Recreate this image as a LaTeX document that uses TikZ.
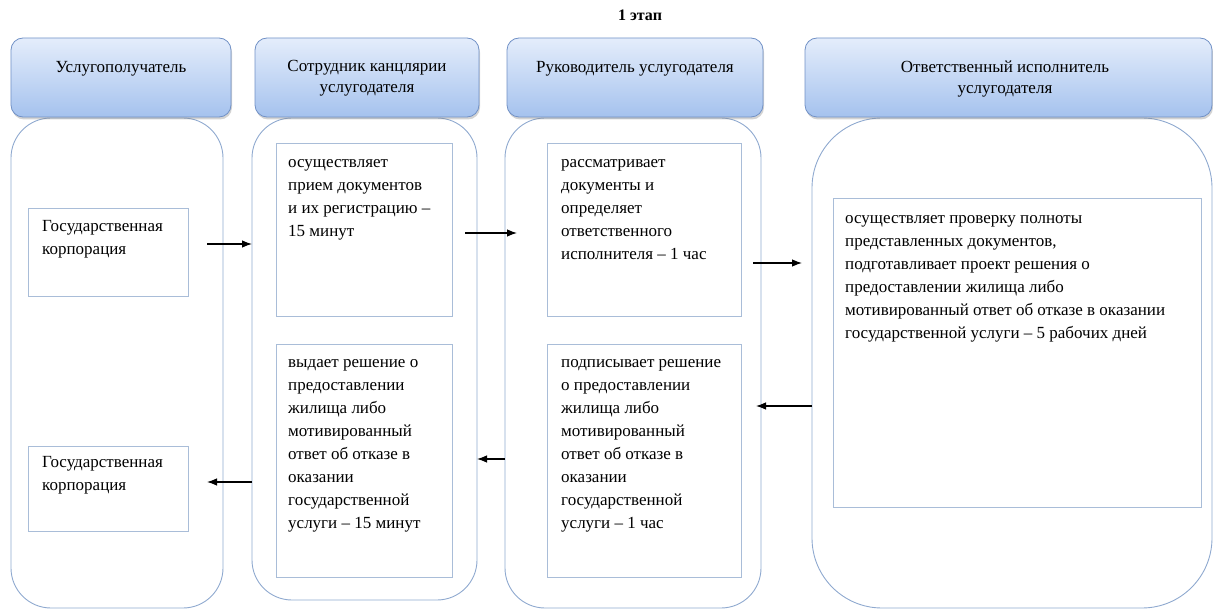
\documentclass[tikz,border=0pt]{standalone}
\usepackage{fontspec}
\setmainfont{Liberation Serif}
\usetikzlibrary{arrows.meta,shadows,calc}
\definecolor{hdtop}{HTML}{E4EDFB}
\definecolor{hdbot}{HTML}{A5C2EE}
\definecolor{hdline}{HTML}{7191C6}
\definecolor{laneline}{HTML}{8FA9CF}
\definecolor{boxline}{HTML}{A9BDD8}
\newcommand{\firststrut}{\rule{0pt}{16bp}}
\newcommand{\headstrut}{\rule{0pt}{15.4bp}}
\begin{document}
\begin{tikzpicture}[x=1bp,y=-1bp,
 header/.style={rounded corners=12bp, draw=hdline, line width=0.8bp, top color=hdtop, bottom color=hdbot,
   drop shadow={shadow xshift=1bp, shadow yshift=-2.5bp, opacity=0.35}, inner sep=0, outer sep=0},
 lane/.style={rounded corners=40bp, draw=laneline, line width=0.9bp, inner sep=0, outer sep=0},
 tbox/.style={draw=boxline, line width=0.8bp, inner sep=0, outer sep=0},
 txt/.style={font=\fontsize{17bp}{23.1bp}\selectfont, inner sep=0, anchor=north west, align=left},
 htxt/.style={font=\fontsize{17bp}{21.5bp}\selectfont, inner sep=0, anchor=north, align=center},
 arr/.style={-{Latex[length=10bp,width=7.5bp]}, line width=1.1bp, black}]
\useasboundingbox (0,0) rectangle (1213,610);

% title
\node[font=\bfseries\fontsize{16bp}{18bp}\selectfont, anchor=base, inner sep=0] (T) at (640,21) {1 этап};

% lanes
\node[lane, minimum width=212bp, minimum height=490bp] (L1) at (117,363) {};
\node[lane, minimum width=225bp, minimum height=482bp] (L2) at (364.5,359) {};
\node[lane, minimum width=256bp, minimum height=490bp] (L3) at (633,363) {};
\node[lane, rounded corners=70bp, minimum width=400bp, minimum height=490bp] (L4) at (1012,363) {};

% headers
\node[header, minimum width=220bp, minimum height=79bp] (H1) at (121,77.5) {};
\node[header, minimum width=224bp, minimum height=79bp] (H2) at (367,77.5) {};
\node[header, minimum width=256bp, minimum height=79bp] (H3) at (635,77.5) {};
\node[header, minimum width=407bp, minimum height=79bp] (H4) at (1008.5,77.5) {};
\node[htxt] (H1t) at (121,56.5) {\headstrut Услугополучатель};
\node[htxt] (H2t) at (367,55.6) {\headstrut Сотрудник канцлярии\\услугодателя};
\node[htxt] (H3t) at (635,56.5) {\headstrut Руководитель услугодателя};
\node[htxt] (H4t) at (1005,56.5) {\headstrut Ответственный исполнитель\\услугодателя};

% boxes
\node[tbox, minimum width=160bp, minimum height=88bp] (G1) at (108,252) {};
\node[tbox, minimum width=160bp, minimum height=85bp] (G2) at (108,488.5) {};
\node[tbox, minimum width=176bp, minimum height=173bp] (B21) at (364,229.5) {};
\node[tbox, minimum width=176bp, minimum height=233bp] (B22) at (364,460.5) {};
\node[tbox, minimum width=194bp, minimum height=173bp] (B31) at (644,229.5) {};
\node[tbox, minimum width=194bp, minimum height=233bp] (B32) at (644,460.5) {};
\node[tbox, minimum width=368bp, minimum height=309bp] (B4) at (1017,352.5) {};

% texts
\node[txt] (G1t) at (42,215) {\firststrut Государственная\\корпорация};
\node[txt] (G2t) at (42,451) {\firststrut Государственная\\корпорация};
\node[txt] (B21t) at (288,151) {\firststrut осуществляет\\прием документов\\и их регистрацию –\\15 минут};
\node[txt] (B31t) at (561,151) {\firststrut рассматривает\\документы и\\определяет\\ответственного\\исполнителя – 1 час};
\node[txt] (B4t) at (845,207) {\firststrut осуществляет проверку полноты\\представленных документов,\\подготавливает проект решения о\\предоставлении жилища либо\\мотивированный ответ об отказе в оказании\\государственной услуги – 5 рабочих дней};
\node[txt] (B32t) at (561,351) {\firststrut подписывает решение\\о предоставлении\\жилища либо\\мотивированный\\ответ об отказе в\\оказании\\государственной\\услуги – 1 час};
\node[txt] (B22t) at (288,351) {\firststrut выдает решение о\\предоставлении\\жилища либо\\мотивированный\\ответ об отказе в\\оказании\\государственной\\услуги – 15 минут};

% arrow end points
\coordinate (a1s) at (207,244);
\coordinate (a2s) at (465,233);
\coordinate (a2e) at (517,233);
\coordinate (a3s) at (753,263);
\coordinate (a3e) at (802,263);
\coordinate (a4e) at (756,406);
\coordinate (a5s) at (505,459);
\coordinate (a6e) at (207,482);

\draw[arr] (a1s) -- (a1s -| L2.west);
\draw[arr] (a2s) -- (a2e);
\draw[arr] (a3s) -- (a3e);
\draw[arr] (a4e -| L4.west) -- (a4e);
\draw[arr] (a5s) -- (a5s -| L2.east);
\draw[arr] (a6e -| L2.west) -- (a6e);
\end{tikzpicture}
\end{document}
